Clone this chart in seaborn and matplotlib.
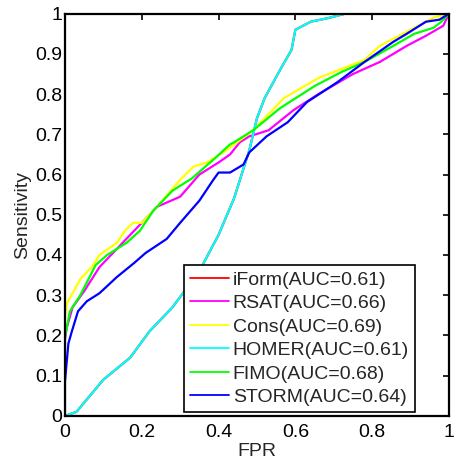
import numpy as np
import pandas as pd
import matplotlib
matplotlib.use("Agg")
import matplotlib.pyplot as plt
import seaborn as sns

methods = ["iForm", "RSAT", "Cons", "HOMER", "FIMO", "STORM"]
auc = [0.61, 0.66, 0.69, 0.61, 0.68, 0.64]
colors = ["#ff0000", "#ff00ff", "#ffff00", "#00ffff", "#00ff00", "#0000ff"]

homer_x = [0, 0.03, 0.10, 0.17, 0.22, 0.28, 0.35, 0.40, 0.44, 0.48, 0.50, 0.52, 0.56, 0.59, 0.60, 0.64, 0.69, 0.73, 1.0]
homer_y = [0, 0.01, 0.09, 0.145, 0.21, 0.27, 0.36, 0.45, 0.54, 0.66, 0.74, 0.79, 0.86, 0.91, 0.96, 0.98, 0.99, 1.0, 1.0]
iform_x = homer_x
iform_y = homer_y
cons_x = [0, 0, 0.005, 0.017, 0.04, 0.07, 0.09, 0.135, 0.156, 0.177, 0.20, 0.24, 0.30, 0.335, 0.37, 0.42, 0.49, 0.57, 0.66, 0.78, 0.82, 0.89, 0.96, 1.0]
cons_y = [0, 0.247, 0.28, 0.30, 0.34, 0.37, 0.40, 0.43, 0.46, 0.48, 0.48, 0.52, 0.587, 0.62, 0.63, 0.66, 0.71, 0.79, 0.84, 0.885, 0.92, 0.955, 0.99, 1.0]
fimo_x = [0, 0, 0.005, 0.013, 0.04, 0.08, 0.11, 0.16, 0.195, 0.23, 0.28, 0.33, 0.39, 0.43, 0.44, 0.49, 0.56, 0.65, 0.72, 0.78, 0.855, 0.91, 0.96, 0.98, 1.0]
fimo_y = [0, 0.197, 0.22, 0.26, 0.30, 0.375, 0.40, 0.43, 0.46, 0.51, 0.56, 0.59, 0.64, 0.675, 0.68, 0.71, 0.765, 0.82, 0.855, 0.88, 0.92, 0.95, 0.965, 0.98, 1.0]
rsat_x = [0, 0, 0.005, 0.02, 0.05, 0.09, 0.13, 0.18, 0.24, 0.30, 0.35, 0.40, 0.43, 0.455, 0.48, 0.53, 0.595, 0.66, 0.75, 0.82, 0.89, 0.94, 0.985, 1.0]
rsat_y = [0, 0.19, 0.22, 0.27, 0.31, 0.37, 0.41, 0.46, 0.52, 0.545, 0.60, 0.63, 0.65, 0.68, 0.695, 0.71, 0.76, 0.80, 0.85, 0.88, 0.92, 0.945, 0.97, 1.0]
storm_x = [0, 0, 0.009, 0.018, 0.034, 0.057, 0.09, 0.135, 0.18, 0.21, 0.265, 0.30, 0.35, 0.385, 0.40, 0.43, 0.465, 0.48, 0.525, 0.58, 0.63, 0.71, 0.78, 0.855, 0.89, 0.94, 0.975, 1.0]
storm_y = [0, 0.085, 0.18, 0.21, 0.26, 0.285, 0.305, 0.345, 0.38, 0.405, 0.44, 0.48, 0.535, 0.585, 0.605, 0.605, 0.625, 0.655, 0.695, 0.73, 0.78, 0.83, 0.88, 0.93, 0.95, 0.98, 0.985, 1.0]

xs = [iform_x, rsat_x, cons_x, homer_x, fimo_x, storm_x]
ys = [iform_y, rsat_y, cons_y, homer_y, fimo_y, storm_y]

sns.set_style("white")
plt.rcParams["font.family"] = ["Liberation Sans", "DejaVu Sans"]

rows = []
labels = []
for m, a, x, y in zip(methods, auc, xs, ys):
    lab = f"{m}(AUC={a:.2f})"
    labels.append(lab)
    for i, (xv, yv) in enumerate(zip(x, y)):
        rows.append({"FPR": xv, "Sensitivity": yv, "method": lab, "order": i})
df = pd.DataFrame(rows)

fig = plt.figure(figsize=(4.54, 4.71), dpi=100)
ax = fig.add_axes([0.143, 0.117, 0.846, 0.854])
sns.lineplot(data=df, x="FPR", y="Sensitivity", hue="method", hue_order=labels,
             palette=dict(zip(labels, colors)), sort=False, estimator=None,
             linewidth=1.6, ax=ax)

ax.set_xlim(0, 1)
ax.set_ylim(0, 1)
ax.set_xticks(np.arange(0, 1.01, 0.2))
ax.set_xticklabels(["0", "0.2", "0.4", "0.6", "0.8", "1"])
ax.set_yticks(np.arange(0, 1.01, 0.1))
ax.set_yticklabels(["0"] + [f"{v:.1f}" for v in np.arange(0.1, 0.95, 0.1)] + ["1"])
ax.tick_params(direction="in", length=4, width=1.2, top=True, right=True,
               labelsize=14, colors="black")
ax.tick_params(axis="x", pad=6)
ax.tick_params(axis="y", pad=2)
for s in ax.spines.values():
    s.set_color("black")
    s.set_linewidth(1.6)
ax.set_xlabel("FPR", fontsize=14, labelpad=1)
ax.set_ylabel("Sensitivity", fontsize=14, labelpad=3)

leg = ax.legend(loc="lower right", bbox_to_anchor=(0.911, 0.01), borderaxespad=0,
                fontsize=14, fancybox=False, edgecolor="black", framealpha=1,
                handlelength=2.0, handletextpad=0.2, labelspacing=0.3,
                borderpad=0.3)
leg.get_frame().set_linewidth(1.2)
for line in leg.get_lines():
    line.set_linewidth(1.3)

fig.savefig("out.png", dpi=100)
